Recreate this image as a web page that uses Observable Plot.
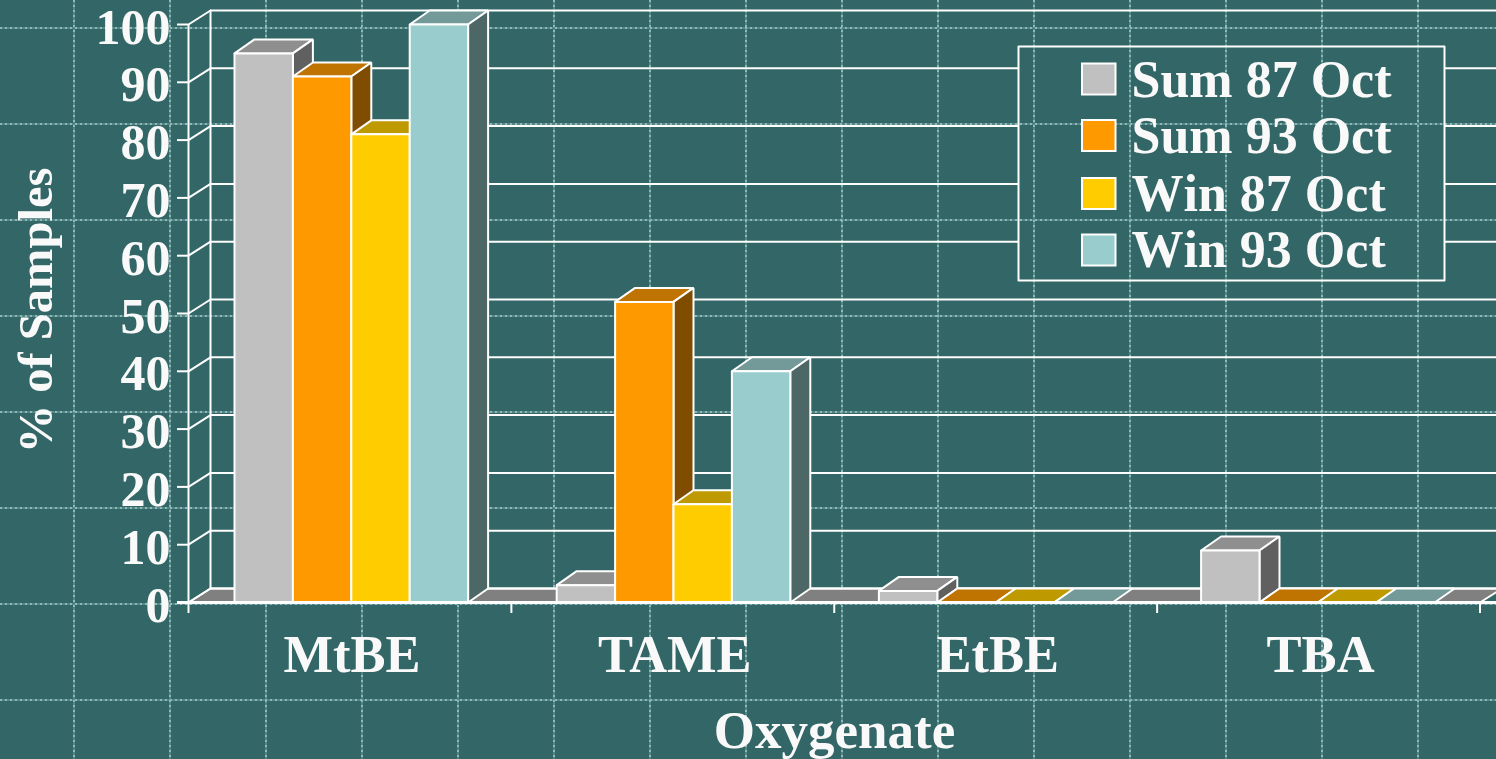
<!DOCTYPE html>
<html>
<head>
<meta charset="utf-8">
<script src="https://cdn.jsdelivr.net/npm/d3@7"></script>
<script src="https://cdn.jsdelivr.net/npm/@observablehq/plot@0.6"></script>
<style>
html,body{margin:0;padding:0;background:#336666;overflow:hidden;width:1496px;height:759px}
svg{display:block}
.nokern{font-kerning:none}
</style>
</head>
<body>
<script>
// ---- data ----
const categories = ["MtBE", "TAME", "EtBE", "TBA"];
const seriesNames = ["Sum 87 Oct", "Sum 93 Oct", "Win 87 Oct", "Win 93 Oct"];
const sum87 = [95, 3, 2, 9];
const sum93 = [91, 52, 0, 0];
const win87 = [81, 17, 0, 0];
const win93 = [100, 40, 0, 0];
const frontColors = ["#c0c0c0", "#ff9900", "#ffcc00", "#99cccc"];
const topColors = ["#8f8f8f", "#bf7300", "#bf9900", "#739999"];
const sideColors = ["#606060", "#804d00", "#806600", "#4d6666"];
const yTicks = [0, 10, 20, 30, 40, 50, 60, 70, 80, 90, 100];
const allSeries = [sum87, sum93, win87, win93];

// ---- layout ----
const W = 1496, H = 759, L = 188, R = 1479.5, T = 24, B = 602;
const px = p => (p - L) / (R - L) * 4;   // pixel -> category units
const py = p => (B - p) / (B - T) * 100; // pixel -> percent
const dpx = p => p / (R - L) * 4;
const dpy = p => p / (B - T) * 100;
const wallX = dpx(22), wallY = dpy(14);
const barX = dpx(20), barY = dpy(14);
const groupStart = dpx(46), groupStep = dpx(322.2), barW = dpx(58.4);
const INK = "#ffffff", TXT = "#f9f9f9", FONT = "'Liberation Serif','Times New Roman',serif";

// ---- faces of the bars, in painter's order ----
const faces = [];
function face(id, fill, pts){ pts.concat([pts[0]]).forEach(([x,y]) => faces.push({id, fill, x, y})); }
categories.forEach((c, i) => {
  allSeries.forEach((s, j) => {
    const v = s[i], x0 = i * groupStep + groupStart + j * barW, x1 = x0 + barW, id = c + j;
    face(id+"t", topColors[j], [[x0,v],[x1,v],[x1+barX,v+barY],[x0+barX,v+barY]]);
    if (v > 0) {
      face(id+"s", sideColors[j], [[x1,0],[x1+barX,barY],[x1+barX,v+barY],[x1,v]]);
      face(id+"f", frontColors[j], [[x0,0],[x1,0],[x1,v],[x0,v]]);
    }
  });
});

// ---- back wall ----
const wallL = wallX, wallR = 4 + wallX;
const legL = px(1018), legR = px(1444), legT = py(46), legB = py(280);
const wallSegs = [];
yTicks.forEach(t => {
  const y = t + wallY;
  if (y < legT && y > legB) { wallSegs.push({y, a: wallL, b: legL}, {y, a: legR, b: wallR}); }
  else wallSegs.push({y, a: wallL, b: wallR});
});
const sideGrid = yTicks.flatMap(t => [{t, x: 0, y: t}, {t, x: wallL, y: t + wallY}]);
const floorPoly = [[0,0],[4,0],[wallR,wallY],[wallL,wallY],[0,0]].map(([x,y]) => ({x,y}));

// ---- slide backdrop: dotted lattice ----
const bgX = d3.range(74, W, 96).map(p => px(p - .5));
const bgY = d3.range(28, H, 96).map(p => py(p - .5));

// ---- legend ----
const legRows = seriesNames.map((name, j) => ({name, j, color: frontColors[j]}));
const swTop = [63.5, 120, 178, 234.5], txtBase = [96.5, 152.5, 210.5, 266.5];

const chart = Plot.plot({
  width: W, height: H, marginLeft: L, marginRight: W - R, marginTop: T, marginBottom: H - B,
  x: {domain: [0, 4], axis: null},
  y: {domain: [0, 100], axis: null},
  color: {type: "identity"},
  style: {background: "#336666", fontFamily: FONT, fontWeight: "bold", maxWidth: "none"},
  marks: [
    // backdrop
    Plot.ruleX(bgX, {y1: py(0), y2: py(H), stroke: "#558585", strokeWidth: 2}),
    Plot.ruleY(bgY, {x1: px(0), x2: px(W), stroke: "#558585", strokeWidth: 2}),
    Plot.ruleX(bgX, {y1: py(0), y2: py(H), stroke: "#8db9b9", strokeWidth: 2, strokeDasharray: "2 3"}),
    Plot.ruleY(bgY, {x1: px(0), x2: px(W), stroke: "#8db9b9", strokeWidth: 2, strokeDasharray: "2 3"}),
    // floor and walls
    Plot.line(floorPoly, {x: "x", y: "y", fill: "#808080", stroke: INK, strokeWidth: 2}),
    Plot.ruleY(wallSegs, {y: "y", x1: "a", x2: "b", stroke: INK, strokeWidth: 2}),
    Plot.line(sideGrid, {x: "x", y: "y", z: "t", stroke: INK, strokeWidth: 2}),
    Plot.ruleX([0], {y1: 0, y2: 100, stroke: INK, strokeWidth: 2}),
    Plot.ruleX([wallL], {y1: wallY, y2: 100 + wallY, stroke: INK, strokeWidth: 2}),
    // bars
    Plot.line(faces, {x: "x", y: "y", z: "id", fill: "fill", stroke: INK, strokeWidth: 2, strokeLinejoin: "miter", curve: "linear"}),
    // axes
    Plot.ruleY([0], {x1: px(177), x2: px(W), stroke: INK, strokeWidth: 3}),
    Plot.ruleY(yTicks, {x1: px(177), x2: 0, stroke: INK, strokeWidth: 2}),
    Plot.ruleX([0, 1, 2, 3, 4], {y1: 0, y2: py(613), stroke: INK, strokeWidth: 2}),
    Plot.axisY({ticks: yTicks, tickFormat: d => String(d), tickSize: 0, tickPadding: 18, label: null, dy: 3, fontSize: 50, fontWeight: "bold", fontFamily: FONT, fill: TXT}),
    Plot.text(categories, {x: (d, i) => i + .5 + dpx(2), y: py(671), text: d => d, lineAnchor: "bottom", fontSize: 52.5, fill: TXT}),
    Plot.text(["Oxygenate"], {x: px(834), y: py(747), text: d => d, lineAnchor: "bottom", fontSize: 53, fill: TXT}),
    Plot.text(["% of Samples"], {x: px(51), y: py(310), text: d => d, rotate: -90, lineAnchor: "bottom", fontSize: 48.5, fill: TXT}),
    // legend
    Plot.line([[legL,legT],[legR,legT],[legR,legB],[legL,legB],[legL,legT]], {x: d => d[0], y: d => d[1], stroke: INK, strokeWidth: 2}),
    Plot.rect(legRows, {x1: px(1082), x2: px(1115.5), y1: d => py(swTop[d.j]), y2: d => py(swTop[d.j] + 31), fill: "color", stroke: INK, strokeWidth: 2}),
    Plot.text(legRows, {x: px(1131), y: d => py(txtBase[d.j]), text: "name", textAnchor: "start", lineAnchor: "bottom", fontSize: 52, fill: TXT, className: "nokern"})
  ]
});
document.body.appendChild(chart);
</script>
</body>
</html>
